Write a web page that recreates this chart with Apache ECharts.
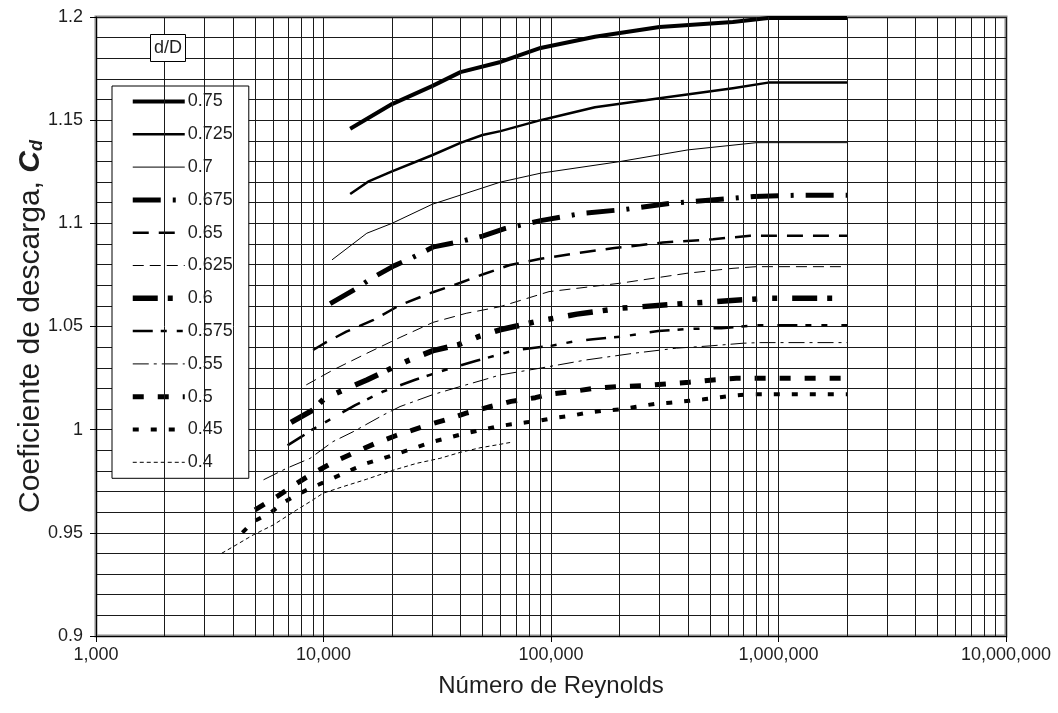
<!DOCTYPE html>
<html>
<head>
<meta charset="utf-8">
<script src="https://cdn.jsdelivr.net/npm/echarts@6/dist/echarts.min.js"></script>
<style>
  html, body { margin: 0; padding: 0; background: #fff; }
  #chart { width: 1058px; height: 713px; }
</style>
</head>
<body>
<div id="chart"></div>
<script>
// ---------------- DATA ----------------
const SERIES_NAMES = ['0.75', '0.725', '0.7', '0.675', '0.65', '0.625', '0.6', '0.575', '0.55', '0.5', '0.45', '0.4'];

const RE_075 = [13100, 20000, 30000, 40000, 60000, 90000, 156000, 300000, 630000, 900000, 2000000];
const CD_075 = [1.1458, 1.1578, 1.1665, 1.1733, 1.1782, 1.1850, 1.1904, 1.1952, 1.1976, 1.1995, 1.1995];

const RE_0725 = [13100, 15700, 20000, 30000, 40000, 50000, 60000, 90000, 156000, 300000, 630000, 900000, 2000000];
const CD_0725 = [1.1142, 1.1202, 1.1252, 1.1330, 1.1390, 1.1428, 1.1447, 1.1500, 1.1563, 1.1606, 1.1655, 1.1682, 1.1682];

const RE_07 = [10900, 15500, 20000, 30000, 60000, 90000, 200000, 400000, 800000, 2000000];
const CD_07 = [1.0823, 1.0952, 1.1000, 1.1092, 1.1200, 1.1243, 1.1299, 1.1356, 1.1391, 1.1391];

const RE_0675 = [10700, 14000, 16000, 20400, 24000, 30500, 40000, 50000, 63000, 90000, 138000, 214000, 334000, 508000, 780000, 1200000, 2000000];
const CD_0675 = [1.0611, 1.0685, 1.0729, 1.0794, 1.0828, 1.0886, 1.0912, 1.0938, 1.0975, 1.1013, 1.1049, 1.1068, 1.1097, 1.1113, 1.1130, 1.1136, 1.1136];

const RE_065 = [9000, 10100, 12600, 16600, 21700, 30000, 40000, 50000, 66000, 90000, 125000, 190000, 310000, 516000, 750000, 2000000];
const CD_065 = [1.0386, 1.0419, 1.0475, 1.0532, 1.0604, 1.0665, 1.0712, 1.0752, 1.0798, 1.0828, 1.0853, 1.0880, 1.0907, 1.0923, 1.0940, 1.0940];

const RE_0625 = [8400, 11000, 15500, 21700, 30300, 42400, 59700, 98000, 202000, 396000, 631000, 800000, 2000000];
const CD_0625 = [1.0217, 1.0289, 1.0370, 1.0447, 1.0520, 1.0564, 1.0596, 1.0669, 1.0710, 1.0758, 1.0782, 1.0790, 1.0790];

const RE_06 = [7200, 9000, 10100, 13100, 15500, 19900, 23900, 30300, 39000, 48000, 59700, 89500, 130000, 200000, 350000, 600000, 900000, 2000000];
const CD_06 = [1.0035, 1.0096, 1.0152, 1.0206, 1.0241, 1.0298, 1.0338, 1.0383, 1.0411, 1.0451, 1.0484, 1.0528, 1.0560, 1.0588, 1.0608, 1.0625, 1.0637, 1.0637];

const RE_0575 = [6950, 8000, 9000, 10100, 13800, 18300, 25300, 34200, 47000, 70000, 100000, 125000, 153000, 205000, 296000, 400000, 560000, 800000, 2000000];
const CD_0575 = [0.9924, 0.9966, 1.0003, 1.0034, 1.0119, 1.0185, 1.0242, 1.0289, 1.0334, 1.0386, 1.0406, 1.0427, 1.0438, 1.0451, 1.0478, 1.0488, 1.0492, 1.0506, 1.0506];

const RE_055 = [5450, 6890, 8730, 11000, 13500, 18300, 21700, 30300, 39900, 50400, 59700, 89500, 143000, 230000, 356000, 500000, 700000, 830000, 2000000];
const CD_055 = [0.9757, 0.9813, 0.9861, 0.9942, 0.9990, 1.0071, 1.0112, 1.0170, 1.0209, 1.0241, 1.0265, 1.0298, 1.0338, 1.0370, 1.0395, 1.0406, 1.0419, 1.0422, 1.0422];

const RE_05 = [5000, 6230, 7620, 9000, 11000, 13500, 16800, 21000, 27400, 34200, 42400, 53800, 66800, 85300, 98800, 125000, 155000, 202000, 258000, 322000, 406000, 516000, 653000, 2000000];
const CD_05 = [0.9611, 0.9675, 0.9740, 0.9789, 0.9841, 0.9886, 0.9932, 0.9973, 1.0015, 1.0047, 1.0080, 1.0111, 1.0137, 1.0155, 1.0172, 1.0185, 1.0201, 1.0209, 1.0214, 1.0222, 1.0230, 1.0241, 1.0249, 1.0249];

const RE_045 = [4400, 4910, 5820, 6640, 7620, 8730, 9960, 11800, 13500, 15500, 18300, 21700, 25700, 30300, 35800, 41800, 49600, 57600, 67000, 78200, 89500, 101000, 123000, 146000, 170000, 202000, 237000, 286000, 334000, 396000, 468000, 554000, 631000, 750000, 2000000];
const CD_045 = [0.9501, 0.9554, 0.9595, 0.9646, 0.9683, 0.9716, 0.9743, 0.9780, 0.9809, 0.9837, 0.9861, 0.9888, 0.9915, 0.9942, 0.9962, 0.9982, 0.9999, 1.0015, 1.0026, 1.0036, 1.0044, 1.0055, 1.0068, 1.0083, 1.0092, 1.0099, 1.0111, 1.0125, 1.0131, 1.0139, 1.0147, 1.0157, 1.0165, 1.0172, 1.0172];

const RE_04 = [3570, 4010, 4910, 6010, 7620, 8730, 9960, 12200, 15500, 19900, 25700, 32500, 39900, 48700, 57600, 67000];
const CD_04 = [0.9401, 0.9433, 0.9490, 0.9538, 0.9611, 0.9651, 0.9692, 0.9724, 0.9760, 0.9801, 0.9837, 0.9861, 0.9890, 0.9912, 0.9926, 0.9939];

// x values of the minor (2..9 per decade) vertical grid lines
const X_MINOR_GRID = [2000, 3000, 4000, 5000, 6000, 7000, 8000, 9000,
  20000, 30000, 40000, 50000, 60000, 70000, 80000, 90000,
  200000, 300000, 400000, 500000, 600000, 700000, 800000, 900000,
  2000000, 3000000, 4000000, 5000000, 6000000, 7000000, 8000000, 9000000];

const X_TITLE = 'Número de Reynolds';
const Y_TITLE = 'Coeficiente de descarga, {b|C}{s|d}';
const LEGEND_TITLE = 'd/D';

const SERIES_DATA = {
  '0.75': [RE_075, CD_075], '0.725': [RE_0725, CD_0725], '0.7': [RE_07, CD_07],
  '0.675': [RE_0675, CD_0675], '0.65': [RE_065, CD_065], '0.625': [RE_0625, CD_0625],
  '0.6': [RE_06, CD_06], '0.575': [RE_0575, CD_0575], '0.55': [RE_055, CD_055],
  '0.5': [RE_05, CD_05], '0.45': [RE_045, CD_045], '0.4': [RE_04, CD_04]
};

// ---------------- STYLES ----------------
const LINE_STYLES = {
  '0.75':  { width: 4,   type: 'solid' },
  '0.725': { width: 2.5, type: 'solid' },
  '0.7':   { width: 1,   type: 'solid' },
  '0.675': { width: 5,   type: [28, 12, 3, 12] },
  '0.65':  { width: 2.5, type: [16, 10] },
  '0.625': { width: 1,   type: [11, 6] },
  '0.6':   { width: 5.5, type: [25, 10, 5, 15, 5, 15] },
  '0.575': { width: 2.5, type: [20, 8, 6, 10, 6, 14] },
  '0.55':  { width: 1,   type: [16, 5, 3, 5] },
  '0.5':   { width: 5,   type: [11, 14] },
  '0.45':  { width: 4,   type: [6, 12] },
  '0.4':   { width: 1,   type: [4, 3] }
};

const FONT = '"Liberation Sans", Arial, Helvetica, sans-serif';
const GRID_COLOR = '#1a1a1a';
const TEXT_COLOR = '#1e1e1e';

const series = SERIES_NAMES.map(function (name) {
  const re = SERIES_DATA[name][0], cd = SERIES_DATA[name][1];
  const st = LINE_STYLES[name];
  return {
    name: name,
    type: 'line',
    symbol: 'none',
    smooth: false,
    z: 3,
    data: re.map(function (r, i) { return [r, cd[i]]; }),
    itemStyle: { color: '#000' },
    lineStyle: { color: '#000', width: st.width, type: st.type, cap: 'butt', join: 'round' },
    emphasis: { disabled: true }
  };
});

// minor vertical grid lines (through the axis scale)
series.push({
  name: '__grid',
  type: 'line',
  data: [],
  z: 1,
  silent: true,
  markLine: {
    silent: true,
    symbol: 'none',
    animation: false,
    label: { show: false },
    lineStyle: { color: GRID_COLOR, width: 1, type: 'solid' },
    emphasis: { disabled: true },
    data: X_MINOR_GRID.map(function (v) { return { xAxis: v }; })
  }
});

const chart = echarts.init(document.getElementById('chart'), null, { renderer: 'canvas' });

chart.setOption({
  animation: false,
  backgroundColor: '#fff',
  textStyle: { fontFamily: FONT },
  title: {
    text: LEGEND_TITLE,
    left: 150,
    top: 34,
    padding: [5, 4, 5, 4],
    borderColor: '#000',
    borderWidth: 1,
    backgroundColor: '#fff',
    textStyle: { fontFamily: FONT, fontSize: 18, fontWeight: 'normal', color: TEXT_COLOR }
  },
  grid: {
    left: 96, right: 52, top: 17, bottom: 77,
    show: true,
    borderColor: '#8a8a8a',
    borderWidth: 3,
    backgroundColor: 'transparent'
  },
  legend: {
    data: SERIES_NAMES,
    orient: 'vertical',
    left: 112,
    top: 86,
    padding: [6.5, 16, 7, 18],
    itemWidth: 52,
    itemHeight: 14,
    itemGap: 14.8,
    selectedMode: false,
    borderColor: '#000',
    borderWidth: 1,
    backgroundColor: '#fff',
    itemStyle: { opacity: 0, borderWidth: 0 },
    lineStyle: { width: 'inherit', type: 'inherit', color: 'inherit' },
    textStyle: { fontFamily: FONT, fontSize: 18, lineHeight: 18, color: TEXT_COLOR, padding: [0, 0, 0, -2] }
  },
  xAxis: {
    type: 'log',
    logBase: 10,
    min: 1000,
    max: 10000000,
    name: X_TITLE,
    nameLocation: 'middle',
    nameGap: 38,
    nameTextStyle: { fontFamily: FONT, fontSize: 24, color: TEXT_COLOR },
    axisLine: { show: true, onZero: false, lineStyle: { color: '#000', width: 1 } },
    axisTick: { show: true, inside: false, length: 6, lineStyle: { color: '#000' } },
    axisLabel: {
      margin: 10,
      fontFamily: FONT, fontSize: 18, color: TEXT_COLOR,
      formatter: function (v) { return Math.round(v).toLocaleString('en-US'); }
    },
    splitLine: { show: true, lineStyle: { color: GRID_COLOR, width: 1 } },
    minorTick: { show: false },
    minorSplitLine: { show: false }
  },
  yAxis: {
    type: 'value',
    min: 0.9,
    max: 1.2,
    interval: 0.05,
    name: Y_TITLE,
    nameLocation: 'middle',
    nameMoveOverlap: false,
    nameGap: 50,
    nameRotate: 90,
    nameTextStyle: {
      fontFamily: FONT, fontSize: 30, color: TEXT_COLOR,
      rich: {
        b: { fontFamily: FONT, fontSize: 30, fontWeight: 'bold', fontStyle: 'italic', color: TEXT_COLOR },
        s: { fontFamily: FONT, fontSize: 18, fontWeight: 'bold', fontStyle: 'italic', color: TEXT_COLOR, verticalAlign: 'bottom', padding: [12, 0, 0, 0] }
      }
    },
    axisLine: { show: true, lineStyle: { color: '#000', width: 1 } },
    axisTick: { show: true, inside: false, length: 6, lineStyle: { color: '#000' } },
    axisLabel: {
      margin: 13,
      fontFamily: FONT, fontSize: 18, color: TEXT_COLOR,
      formatter: function (v) { return String(+(+v).toFixed(2)); }
    },
    splitLine: { show: true, lineStyle: { color: GRID_COLOR, width: 1 } },
    minorTick: { show: false, splitNumber: 5 },
    minorSplitLine: { show: true, lineStyle: { color: GRID_COLOR, width: 1 } }
  },
  series: series
});
</script>
</body>
</html>
